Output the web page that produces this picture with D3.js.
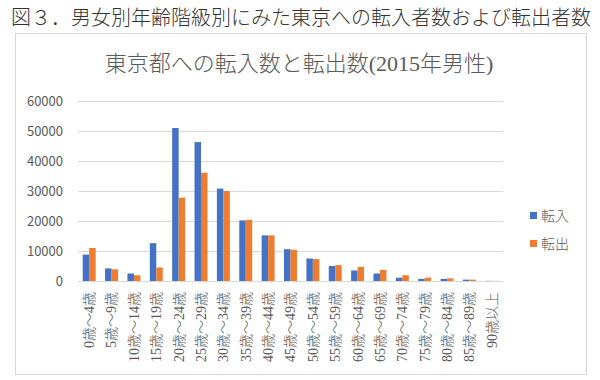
<!doctype html>
<html>
<head>
<meta charset="utf-8">
<script src="https://cdn.jsdelivr.net/npm/d3@7"></script>
<style>
  body { margin: 0; background: #fff; }
</style>
</head>
<body>
<svg id="chart" width="600" height="380"></svg>
<script>
// data
const categories = ["0歳～4歳", "5歳～9歳", "10歳～14歳", "15歳～19歳", "20歳～24歳", "25歳～29歳",
  "30歳～34歳", "35歳～39歳", "40歳～44歳", "45歳～49歳", "50歳～54歳", "55歳～59歳",
  "60歳～64歳", "65歳～69歳", "70歳～74歳", "75歳～79歳", "80歳～84歳", "85歳～89歳", "90歳以上"]
const tennyu = [8800, 4200, 2500, 12600, 51000, 46300, 30800, 20200, 15200, 10600,
  7500, 5000, 3500, 2500, 1100, 700, 700, 450, 50]
const tenshutsu = [11000, 3900, 1900, 4500, 27800, 36100, 30000, 20400, 15200, 10400,
  7300, 5300, 4700, 3700, 1900, 1100, 900, 450, 40]
const seriesNames = ["転入", "転出"]
const colors = ["#4472C4", "#ED7D31"]
const yTicks = [0, 10000, 20000, 30000, 40000, 50000, 60000]

const svg = d3.select("#chart")
const sans = "'Noto Sans CJK JP', 'Noto Sans', sans-serif"
const serif = "'Liberation Serif', 'DejaVu Serif', 'Noto Sans CJK JP', serif"

// page heading
svg.append("text")
  .attr("x", 11).attr("y", 25)
  .attr("font-family", sans).attr("font-size", 20).attr("font-weight", 300)
  .attr("fill", "#333")
  .text("図３．男女別年齢階級別にみた東京への転入者数および転出者数")

// chart frame
svg.append("rect")
  .attr("x", 15.5).attr("y", 33.5).attr("width", 571).attr("height", 341)
  .attr("fill", "#fff").attr("stroke", "#d9d9d9")

svg.append("text")
  .attr("x", 299).attr("y", 71)
  .attr("text-anchor", "middle")
  .attr("font-family", serif).attr("font-size", 22).attr("font-weight", 300)
  .attr("fill", "#595959")
  .text("東京都への転入数と転出数(2015年男性)")

const x0 = d3.scaleBand().domain(categories).range([78, 503]).paddingInner(0.42).paddingOuter(0.21)
const x1 = d3.scaleBand().domain(seriesNames).range([0, x0.bandwidth()])
const y = d3.scaleLinear().domain([0, 60000]).range([281, 101])

// gridlines
svg.append("g").selectAll("line").data(yTicks).join("line")
  .attr("x1", 78).attr("x2", 503)
  .attr("y1", d => Math.round(y(d)) + 0.5).attr("y2", d => Math.round(y(d)) + 0.5)
  .attr("stroke", "#d9d9d9").attr("stroke-width", 1)

// y labels
const yAxis = svg.append("g")
  .attr("transform", "translate(63,0)")
  .call(d3.axisLeft(y).tickValues(yTicks).tickSize(0).tickPadding(0).tickFormat(d3.format("d")))
yAxis.select(".domain").remove()
yAxis.selectAll("text")
  .attr("font-family", sans).attr("font-size", 13).attr("fill", "#595959")

// bars
const rows = categories.map((c, i) => ({ cat: c, vals: [tennyu[i], tenshutsu[i]] }))
svg.append("g").selectAll("g").data(rows).join("g")
  .attr("transform", d => `translate(${x0(d.cat)},0)`)
  .selectAll("rect").data(d => d.vals.map((v, k) => ({ name: seriesNames[k], v, k })))
  .join("rect")
  .attr("x", d => x1(d.name))
  .attr("width", x1.bandwidth())
  .attr("y", d => y(d.v))
  .attr("height", d => y(0) - y(d.v))
  .attr("fill", d => colors[d.k])

// x labels, vertical
const xAxis = svg.append("g")
  .attr("transform", "translate(0,281)")
  .call(d3.axisBottom(x0).tickSize(0).tickPadding(0))
xAxis.select(".domain").remove()
xAxis.selectAll("text")
  .attr("font-family", serif).attr("font-size", 14).attr("font-weight", 300).attr("fill", "#595959")
  .attr("transform", "rotate(-90)")
  .attr("text-anchor", "end")
  .attr("x", -11).attr("y", 0).attr("dy", "0.35em")

// legend
const legend = svg.append("g").selectAll("g").data(seriesNames).join("g")
  .attr("transform", (d, i) => `translate(530,${212 + i * 28})`)
legend.append("rect").attr("width", 7).attr("height", 7).attr("fill", (d, i) => colors[i])
legend.append("text")
  .attr("x", 11).attr("y", 4).attr("dy", "0.35em")
  .attr("font-family", sans).attr("font-size", 14).attr("font-weight", 300).attr("fill", "#595959")
  .text(d => d)
</script>
</body>
</html>
